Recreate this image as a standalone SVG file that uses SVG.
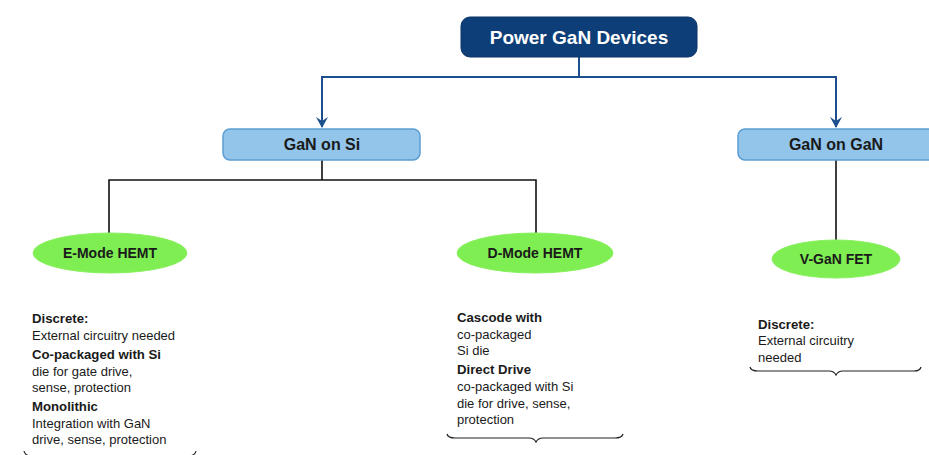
<svg xmlns="http://www.w3.org/2000/svg" width="929" height="455" viewBox="0 0 929 455">
<style>
text{font-family:"Liberation Sans","DejaVu Sans",sans-serif;fill:#1a1a1a}
.root{fill:#0d3e78;stroke:#0a3366;stroke-width:1}
.rt{fill:#ffffff;font-weight:bold;font-size:19px}
.box{fill:#93c5ea;stroke:#5b9dd2;stroke-width:1.5}
.bt{font-weight:bold;font-size:16px}
.ell{fill:#7eee52;stroke:#8af060;stroke-width:1}
.et{font-weight:bold;font-size:14px}
.b{font-weight:bold;font-size:13.2px}
.n{font-size:13px}
.blue{fill:none;stroke:#1d4f8c;stroke-width:2}
.blk{fill:none;stroke:#111;stroke-width:1.6}
.brace{fill:none;stroke:#222;stroke-width:1.2}
.ah{fill:#1d4f8c}
</style>
<g id="connectors">
<path class="blue" d="M579,57 V77 H322 V127"/>
<path class="ah" d="M316,117 L322,128 L328,117 L322,121 Z"/>
<path class="blue" d="M579,77 H836 V127"/>
<path class="ah" d="M830,117 L836,128 L842,117 L836,121 Z"/>
<path class="blk" d="M322,160 V180 M109,233 V180 H536 V233"/>
<path class="blk" d="M836,160 V240"/>
</g>
<g id="root">
<rect class="root" x="461" y="17" width="236" height="40" rx="9"/>
<text class="rt" x="579" y="44" text-anchor="middle">Power GaN Devices</text>
</g>
<g id="gan-on-si">
<rect class="box" x="223" y="129" width="197" height="31" rx="7"/>
<text class="bt" x="322" y="150" text-anchor="middle">GaN on Si</text>
</g>
<g id="gan-on-gan">
<rect class="box" x="738" y="129" width="197" height="31" rx="7"/>
<text class="bt" x="836" y="150" text-anchor="middle">GaN on GaN</text>
</g>
<g id="emode">
<ellipse class="ell" cx="110" cy="253" rx="77" ry="20"/>
<text class="et" x="110" y="258" text-anchor="middle">E-Mode HEMT</text>
</g>
<g id="dmode">
<ellipse class="ell" cx="535" cy="253" rx="78" ry="20"/>
<text class="et" x="535" y="258" text-anchor="middle">D-Mode HEMT</text>
</g>
<g id="vgan">
<ellipse class="ell" cx="836" cy="259" rx="64" ry="19"/>
<text class="et" x="836" y="264" text-anchor="middle">V-GaN FET</text>
</g>
<g id="emode-notes">
<text class="b" x="32" y="323">Discrete:</text>
<text class="n" x="32" y="340">External circuitry needed</text>
<text class="b" x="32" y="359">Co-packaged with Si</text>
<text class="n" x="32" y="376">die for gate drive,</text>
<text class="n" x="32" y="392">sense, protection</text>
<text class="b" x="32" y="411">Monolithic</text>
<text class="n" x="32" y="428">Integration with GaN</text>
<text class="n" x="32" y="444">drive, sense, protection</text>
<path class="brace" d="M24,451 Q25,456 32,456 L103,456 Q108,456 110,460 Q112,456 117,456 L188,456 Q195,456 196,451"/>
</g>
<g id="dmode-notes">
<text class="b" x="457" y="322">Cascode with</text>
<text class="n" x="457" y="339">co-packaged</text>
<text class="n" x="457" y="355">Si die</text>
<text class="b" x="457" y="374">Direct Drive</text>
<text class="n" x="457" y="391">co-packaged with Si</text>
<text class="n" x="457" y="408">die for drive, sense,</text>
<text class="n" x="457" y="424">protection</text>
<path class="brace" d="M447,434 Q448,438 455,438 L529,438 Q534,438 536,442 Q538,438 543,438 L615,438 Q622,438 623,434"/>
</g>
<g id="vgan-notes">
<text class="b" x="758" y="329">Discrete:</text>
<text class="n" x="758" y="345">External circuitry</text>
<text class="n" x="758" y="362">needed</text>
<path class="brace" d="M750,367 Q751,371 758,371 L829,371 Q834,371 836,375 Q838,371 843,371 L914,371 Q920,371 921,367"/>
</g>
</svg>
